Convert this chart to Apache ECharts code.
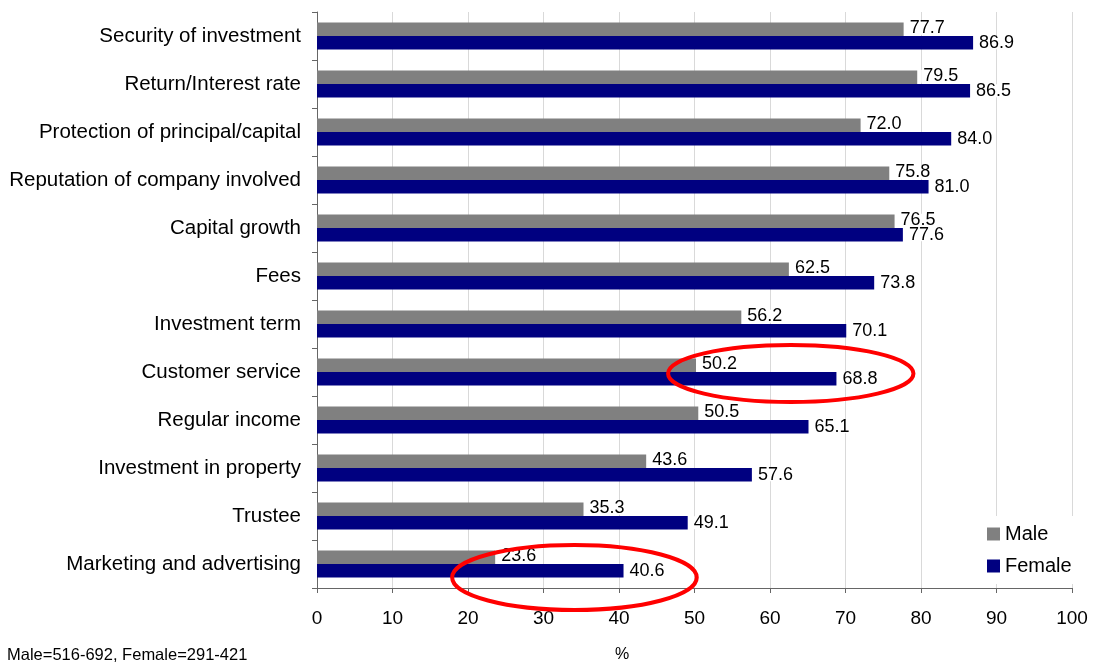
<!DOCTYPE html>
<html>
<head>
<meta charset="utf-8">
<title>Investment factors by gender</title>
<script src="https://cdn.jsdelivr.net/npm/echarts@6/dist/echarts.min.js"></script>
<style>
  html, body { margin: 0; padding: 0; background: #fff; }
  #chart { width: 1096px; height: 663px; }
</style>
</head>
<body>
<div id="chart"></div>
<script>
// Factors, listed top to bottom
const categories = [
  'Security of investment',
  'Return/Interest rate',
  'Protection of principal/capital',
  'Reputation of company involved',
  'Capital growth',
  'Fees',
  'Investment term',
  'Customer service',
  'Regular income',
  'Investment in property',
  'Trustee',
  'Marketing and advertising'
];

// Share of respondents (%)
const maleValues   = [77.7, 79.5, 72.0, 75.8, 76.5, 62.5, 56.2, 50.2, 50.5, 43.6, 35.3, 23.6];
const femaleValues = [86.9, 86.5, 84.0, 81.0, 77.6, 73.8, 70.1, 68.8, 65.1, 57.6, 49.1, 40.6];

const xTicks = [0, 10, 20, 30, 40, 50, 60, 70, 80, 90, 100];

const sampleNote = 'Male=516-692, Female=291-421';
const unitLabel = '%';

// Rows called out with a red ring: category and value range spanned
const callouts = [
  { category: 'Customer service',          from: 46.5, to: 79.0, dy: 1.5,  ry: 28.5 },
  { category: 'Marketing and advertising', from: 17.9, to: 50.3, dy: 13.5, ry: 32.5 }
];

const FONT = '"Liberation Sans", Arial, sans-serif';

const chart = echarts.init(document.getElementById('chart'));

function valueLabel(dy) {
  return {
    show: true,
    position: 'right',
    distance: 4,
    offset: [0, dy],
    color: '#000',
    fontFamily: FONT,
    fontSize: 18,
    lineHeight: 13,
    backgroundColor: '#fff',
    padding: [0, 2, 0, 2],
    formatter: p => p.value.toFixed(1)
  };
}

chart.setOption({
  animation: false,
  backgroundColor: '#fff',
  textStyle: { fontFamily: FONT },
  grid: {
    left: 317,
    right: 24,
    top: 12,
    bottom: 75,
    containLabel: false,
    outerBoundsMode: 'none'
  },
  legend: {
    orient: 'vertical',
    left: 975,
    top: 516,
    padding: [8, 12, 8, 12],
    backgroundColor: '#fff',
    itemWidth: 13,
    itemHeight: 13,
    itemGap: 12,
    icon: 'rect',
    textStyle: { fontFamily: FONT, fontSize: 20, color: '#000' },
    data: ['Male', 'Female']
  },
  xAxis: {
    type: 'value',
    min: xTicks[0],
    max: xTicks[xTicks.length - 1],
    interval: xTicks[1] - xTicks[0],
    axisLine: { show: true, lineStyle: { color: '#666', width: 1 } },
    axisTick: { show: true, length: 5, lineStyle: { color: '#666' } },
    axisLabel: { color: '#000', fontFamily: FONT, fontSize: 19, margin: 21 },
    splitLine: { show: true, lineStyle: { color: '#d9d9d9', width: 1 } }
  },
  yAxis: {
    type: 'category',
    data: categories,
    inverse: true,
    axisLine: { show: true, lineStyle: { color: '#666', width: 1 } },
    axisTick: { show: true, length: 5, lineStyle: { color: '#666' } },
    axisLabel: { color: '#000', fontFamily: FONT, fontSize: 20.5, margin: 16 },
    splitLine: { show: false }
  },
  series: [
    {
      name: 'Male',
      type: 'bar',
      data: maleValues,
      itemStyle: { color: '#808080' },
      barGap: '0%',
      barCategoryGap: '44%',
      label: valueLabel(-1)
    },
    {
      name: 'Female',
      type: 'bar',
      data: femaleValues,
      itemStyle: { color: '#000080' },
      barGap: '0%',
      barCategoryGap: '44%',
      label: valueLabel(0)
    }
  ],
  graphic: [
    {
      type: 'text',
      left: 7,
      top: 647,
      style: { text: sampleNote, fill: '#000', font: '16.5px ' + FONT }
    },
    {
      type: 'text',
      left: 615,
      top: 647,
      style: { text: unitLabel, fill: '#000', font: '16px ' + FONT }
    }
  ]
});

// Red rings drawn in data space once the axes are laid out
const rings = callouts.map((c, i) => {
  const a = chart.convertToPixel({ gridIndex: 0 }, [c.from, c.category]);
  const b = chart.convertToPixel({ gridIndex: 0 }, [c.to, c.category]);
  return {
    type: 'ellipse',
    id: 'ring' + i,
    z: 100,
    silent: true,
    shape: {
      cx: (a[0] + b[0]) / 2,
      cy: a[1] + c.dy,
      rx: (b[0] - a[0]) / 2,
      ry: c.ry
    },
    style: { fill: 'none', stroke: '#ff0000', lineWidth: 4 }
  };
});
chart.setOption({ graphic: rings });
</script>
</body>
</html>
